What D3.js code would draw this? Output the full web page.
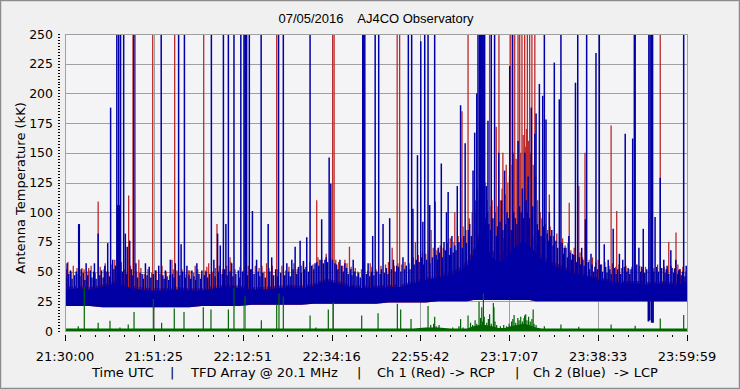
<!DOCTYPE html>
<html><head><meta charset="utf-8">
<script src="https://cdn.jsdelivr.net/npm/d3@7"></script>
<style>
html,body{margin:0;padding:0;background:#f0f0f0;}
svg{display:block;}
text{font-family:"DejaVu Sans",Verdana,sans-serif;fill:#000;}
</style></head><body><svg id="c" width="740" height="389"></svg>
<script>
// ---------- DATA (time in minutes after 21:30:00 UTC, values in kK) ----------
const titleText = "07/05/2016    AJ4CO Observatory";
const yTitle = "Antenna Temperature (kK)";
const captionParts = ["Time UTC", "|", "TFD Array @ 20.1 MHz", "|", "Ch 1 (Red) -> RCP", "|", "Ch 2 (Blue)  -> LCP"];
const xTickLabels = ["21:30:00","21:51:25","22:12:51","22:34:16","22:55:42","23:17:07","23:38:33","23:59:59"];
const yTickValues = [0,25,50,75,100,125,150,175,200,225,250];

const bandT    = [0,3,6,9,12,15,18,21,24,27,30,33,36,39,42,45,48,51,54,57,60,63,66,69,72,75,78,81,84,87,90,93,95,97,98.5,100,101.5,103,104.5,106,107.5,109,110.5,112,113.5,115,117,120,123,126,129,132,135,138,141,144,147,150];
const blueLow  = [21,21,21,20,20,20,20,20,20,20,20,21,21,21,21,22,22,22,22,22,23,23,23,23,23,23,24,24,24,24,25,25,25,25,26,26,26,26,26,26,26,26,26,26,25,25,25,25,25,25,25,25,25,25,25,25,25,25];
const blueTop  = [35,36,35,37,40,37,35,34,34,35,34,34,36,37,36,35,35,36,37,36,38,42,40,37,36,36,37,37,40,43,45,47,50,55,64,78,72,62,58,60,66,72,76,72,66,60,56,52,48,45,43,41,40,40,39,40,39,40];
const redTop   = [37,38,37,39,42,39,37,36,36,37,36,36,38,39,38,37,37,38,39,38,40,44,42,39,38,38,39,39,42,45,47,50,53,59,69,84,78,68,64,68,78,88,94,88,74,64,59,55,50,47,45,43,42,42,41,42,41,42];
const greenTop = [2,2,2,2,2,2,2,2,2,2,2,2,2,2,2,2,2,2,2,2,2,2,2,2,2,2,2,2,2,3,3,2,2,2,4,5,5,4,2.5,2.5,4,5,6,5,3,2,2,2,2,2,2,2,2,2,2,2,2,2];

const blueSpikes = [[0.5,57],[1.3,51],[2.3,47],[3.3,90],[3.45,90],[3.9,52],[5.1,57],[6.1,51],[7.1,57],[8.0,82],[8.8,51],[9.6,55],[10.3,74],[11.0,188],[11.5,60],[12.5,260],[12.7,106],[12.95,260],[13.2,106],[13.4,260],[14.15,260],[14.55,82],[15.0,71],[15.6,76],[16.6,260],[17.1,57],[18.6,48],[19.4,57],[20.3,54],[21.8,51],[22.6,55],[23.2,260],[24.2,51],[25.4,60],[26.6,57],[27.4,260],[28.0,73],[28.8,260],[29.4,55],[30.6,51],[31.8,57],[33.0,51],[35.3,260],[35.9,60],[36.8,82],[37.45,72],
[38.2,260],[38.8,90],[39.4,260],[40.2,57],[40.75,260],[41.8,51],[42.4,260],[43.2,260],[43.5,260],[43.8,260],[44.45,260],[45.2,101],[46.2,60],[47.3,260],[49.0,90],[49.85,62],[51.5,260],[52.65,260],[53.5,57],[54.7,60],[55.5,71],[56.7,76],[57.5,59],[58.3,79],[59.1,260],[60.3,57],[61.9,94],[62.7,60],[63.7,146],[64.1,124],[65.1,57],[66.3,60],[67.5,57],[69.5,60],[71.8,260],[72.0,260],[72.3,260],[73.1,57],[74.2,80],[74.8,260],[75.65,260],
[76.7,90],[78.3,95],[79.2,60],[80.0,55],[81.5,62],[82.8,260],[83.6,260],[83.9,103],[85.0,148],[85.8,244],[86.3,92],[86.75,260],[87.55,260],[87.95,106],[89.15,260],[90.0,70],[90.75,141],[91.4,75],[92.0,100],[92.4,117],[93.3,80],[94.6,122],[95.4,190],[96.5,158],[97.6,90],[98.4,135],[98.8,167],[99.3,200],[99.6,260],[100.0,260],[100.2,260],[100.4,260],[100.6,260],[100.8,260],[101.0,260],[101.2,260],[101.6,122],[102.0,177],[102.8,260],[103.6,260],[104.6,150],[105.3,110],[106.0,135],[106.6,100],[107.25,223],[107.95,260],[109.25,160],[110.3,120],[110.9,150],[111.7,130],[112.45,188],[113.3,166],
[113.6,183],[114.4,208],[115.2,198],[115.6,260],[116.0,178],[116.8,100],[117.4,85],[118.0,226],[119.2,195],[119.6,260],[120.4,70],[121.5,80],[122.4,65],[123.1,209],[123.65,260],[124.6,70],[125.5,94],[125.8,260],[126.85,65],[128.05,234],[128.85,260],[130.05,73],[131.0,60],[132.2,86],[133.7,65],[134.5,60],[135.1,166],[136.9,162],[137.3,260],[137.5,260],[138.4,70],[139.45,86],[140.8,260],[141.1,260],[141.4,260],[141.7,260],[142.3,96],[143.55,129],[144.4,60],[145.2,55],[146.1,68],[147.3,60],[148.2,52],[149.2,260],[149.8,55]];

const blueShort = [[0.2,45],[0.9,48],[1.7,44],[2.7,50],[3.6,46],[4.4,49],[4.8,43],[5.5,47],[6.5,45],[6.9,50],[7.5,44],[8.4,47],[9.2,45],[9.9,50],[10.7,46],[11.8,52],[12.2,55],[13.8,50],[14.9,48],[16.0,52],[16.2,47],[17.5,45],[18.1,49],[18.9,44],[19.8,47],[20.7,45],[21.3,48],[22.2,43],[23.6,47],[23.9,44],[24.6,46],[25.0,43],[25.9,48],[26.3,45],[27.7,47],[28.4,50],[29.0,45],[29.9,47],[30.3,44],[31.1,46],[31.5,43],[32.3,48],[32.7,44],[33.6,47],[34.0,50],[34.4,45],[34.9,48],[36.2,46],[37.0,50],[37.9,48],[38.5,52],[39.1,47],[39.8,50],[40.5,46],[41.2,48],[42.0,45],[42.8,50],[44.0,47],[44.8,52],[45.6,48],[46.6,50],[47.0,46],[47.7,49],[48.3,45],[49.4,50],[50.3,47],[50.8,52],[51.2,46],[52.0,49],[53.0,47],[53.9,50],[54.3,46],[55.0,52],[55.9,48],[56.3,54],[57.0,49],[57.8,52],[58.7,50],[59.5,55],[60.0,52],[60.7,58],[61.2,55],[61.5,60],[62.3,57],[63.0,62],[63.3,58],[64.5,60],[65.5,56],[65.8,52],[66.7,55],[67.1,50],[67.9,53],[68.3,48],[68.9,52],[69.2,47],[69.9,50],[70.4,46],[70.8,49],[71.2,45],[72.7,48],[73.5,46],[73.9,50],[74.5,47],[75.2,50],[76.0,48],[76.3,52],[77.0,49],[77.5,53],[77.9,48],[78.7,52],[79.6,50],[80.4,54],[81.0,50],[81.9,52],[82.3,55],[83.2,52],[84.2,56],[84.7,60],[85.4,58],[86.0,62],[86.5,56],[87.2,60],[88.0,57],[88.6,62],[89.5,64],[89.8,60],[90.3,66],[91.0,62],[91.7,68],[92.7,64],[93.0,70],[93.6,66],[94.0,72],[94.3,68],[95.0,75],[95.8,70],[96.2,80],[96.8,74],[97.3,85],[98.0,80],[99.2,100],[99.9,110],[101.4,95],[101.9,100],[102.2,90],[102.6,85],[103.2,95],[104.0,80],[104.3,88],[104.9,92],[105.6,85],[105.9,78],[106.3,90],[106.9,95],[107.6,85],[108.2,100],[108.6,95],[109.0,90],[109.6,105],[110.0,100],[110.6,95],[111.2,110],[111.5,100],[112.0,95],[112.8,105],[113.9,90],[114.2,85],[114.8,80],[115.4,88],[116.3,82],[116.6,76],[117.1,80],[117.7,72],[118.4,76],[118.8,70],[119.9,74],[120.2,65],[120.8,70],[121.2,62],[121.8,66],[122.1,60],[122.7,64],[123.4,58],[124.0,62],[124.3,56],[124.9,60],[125.2,55],[126.2,58],[126.5,52],[127.1,56],[127.5,50],[127.8,54],[128.4,52],[129.2,56],[129.6,50],[130.4,54],[130.7,49],[131.4,52],[131.7,48],[132.5,53],[132.9,48],[133.3,52],[134.0,48],[134.9,54],[135.5,50],[135.8,53],[136.2,48],[136.5,52],[137.9,56],[138.8,50],[139.1,54],[139.8,49],[140.3,52],[142.0,50],[142.7,54],[143.1,50],[143.9,53],[144.7,49],[145.0,52],[145.6,48],[146.4,53],[146.8,49],[147.0,52],[147.7,48],[148.0,51],[148.6,47],[148.9,50],[149.5,46]];

const redSpikes = [[0.7,58],[2.9,53],[4.1,53],[5.7,53],[8.0,109],[9.7,57],[15.35,114],[16.4,260],[16.9,260],[17.8,60],[21.15,260],[23.4,55],[25.8,60],[26.45,260],[27.0,51],[29.8,51],[31.4,55],[33.45,260],[34.65,57],[36.65,90],
[39.8,62],[48.6,57],[51.05,260],[57.5,57],[60.7,110],[64.55,260],[64.9,260],[67.5,60],[68.6,71],[73.6,57],
[78.9,70],[80.1,260],[80.7,260],[84.5,75],[88.3,85],[89.3,109],[93.15,64],[94.0,100],[95.75,185],[97.2,260],[101.3,125],[102.4,260],[104.0,172],[104.65,260],[105.6,150],[106.4,140],[107.5,260],[108.45,260],[109.25,260],[109.65,260],[110.2,260],[110.85,260],[111.5,260],[112.05,260],[112.6,260],[113.3,260],
[116.8,115],[121.6,108],[123.9,122],[125.4,150],[131.7,173],[133.05,101],[143.55,260],[145.6,75],[147.35,83]];

const redShort = [[0.4,52],[1.5,50],[2.0,55],[3.0,48],[4.6,52],[5.3,50],[6.3,55],[7.3,49],[8.5,54],[9.4,52],[10.5,50],[11.3,56],[12.0,60],[13.6,58],[14.4,52],[15.8,55],[17.3,50],[18.3,53],[19.1,48],[20.0,52],[20.9,49],[22.0,51],[22.9,48],[24.4,50],[25.2,47],[26.1,52],[27.3,49],[28.2,52],[29.2,48],[30.1,51],[31.0,49],[32.0,52],[32.9,48],[33.8,51],[34.2,54],[35.6,50],[36.3,53],[37.2,55],[38.0,52],[39.0,55],[40.0,58],[41.0,52],[42.2,54],[43.0,51],[44.2,55],[45.0,52],[45.9,55],[46.8,53],[47.5,55],[48.0,50],[49.2,53],[50.0,55],[51.3,52],[52.3,55],[53.2,51],[54.0,54],[55.2,57],[56.0,52],[57.0,55],[58.0,54],[59.0,58],[59.8,56],[61.0,62],[62.0,60],[63.0,65],[64.0,62],[65.3,60],[66.0,58],[67.0,55],[68.0,57],[69.0,54],[70.0,53],[70.6,50],[71.5,52],[73.0,51],[74.0,54],[75.0,52],[76.2,55],[77.3,56],[78.0,58],[79.4,55],[80.3,57],[81.2,56],[82.0,58],[83.0,57],[84.0,62],[85.2,64],[86.2,66],[87.0,65],[87.8,68],[88.8,70],[89.7,68],[90.5,72],[91.2,70],[92.2,74],[92.9,78],[93.8,75],[94.8,80],[95.5,78],[96.0,88],[96.7,85],[97.5,95],[98.2,100],[99.0,110],[99.4,120],[100.2,125],[101.0,115],[101.8,110],[102.5,105],[103.0,110],[103.8,100],[104.4,105],[105.0,110],[105.4,120],[106.2,115],[106.8,125],[107.2,130],[107.8,140],[108.2,150],[108.8,145],[109.4,160],[109.9,150],[110.5,165],[111.0,155],[111.3,170],[111.8,160],[112.3,150],[112.9,140],[113.5,130],[114.0,110],[114.6,100],[115.0,95],[115.8,90],[116.4,85],[117.0,88],[117.8,80],[118.6,82],[119.4,75],[120.0,78],[120.6,72],[121.3,74],[122.0,68],[122.8,70],[123.6,64],[124.2,66],[124.8,62],[125.6,64],[126.4,60],[127.2,62],[128.0,58],[128.6,60],[129.4,56],[130.2,58],[131.2,55],[132.0,57],[132.8,54],[133.6,56],[134.2,53],[135.3,55],[136.0,52],[136.7,54],[137.7,52],[138.6,55],[139.3,52],[140.0,54],[142.0,53],[142.9,56],[143.8,52],[144.5,54],[145.3,52],[146.2,55],[147.0,53],[147.8,56],[148.4,52],[149.0,54],[149.7,50]];

const blueDips = [[140.7,8],[141.0,9],[141.5,7],[141.8,7]];

const greenSpikes = [[3.2,4],[4.65,37],[8.0,7],[10.85,8.6],[13.25,3],[15.25,5.5],[16.65,16],[21.3,27],[23.3,7],[26.35,19],[28.7,16],[33.35,20],[35.2,18],[39.4,18],[40.75,36],[43.4,29],[47.35,9],[51.05,22],[51.6,31.6],[52.65,29],[59.1,13],[60.5,3],[63.5,18],[64.7,24.6],[71.55,13],[75.5,15],[80.15,23],[80.95,18],[83.45,10],[87.55,21],[88.2,5],[88.9,6],[89.15,12],[89.5,4],[90.2,5],[93.5,3],[95.0,4],[95.4,10],[96.0,3],[97.2,13],[97.8,7],[98.3,5],[98.9,9],[99.3,6],[99.85,24.6],[100.2,11],[100.5,20],[100.7,8],[100.9,31.6],[101.1,12],[101.7,7],[102.1,10],[102.4,14],[102.8,6],[103.3,23.5],[103.45,20],[103.7,8],[104.1,5],[105.0,4],[105.8,5],[106.5,4],[107.1,6],[107.7,8],[108.0,10],[108.3,13.4],[108.7,7],[109.2,11],[109.5,9],[109.9,12],[110.3,8],[110.7,11],[110.85,13],[111.1,14],[111.4,9],[111.8,12],[112.2,8],[112.6,10],[112.9,18],[113.1,6],[113.6,5],[115.6,4],[119.6,5.5],[123.9,3.5],[131.7,5.5],[137.5,4.5],[143.55,10.6],[149.2,13.4]];

// ---------- LAYOUT ----------
const W = 740, H = 389;
const L = 65, R = 687, T = 34, B = 331;
const colBlue = "#00009a", colBlueLine = "#0000a6", colRed = "#bb2a2a", colGreen = "#006400", colGrid = "#a0a0a0";

const svg = d3.select("#c");
svg.append("rect").attr("x",0.5).attr("y",0.5).attr("width",W-1).attr("height",H-1)
  .attr("fill","#f0f0f0").attr("stroke","#8c8c8c").attr("stroke-width",1);
svg.append("rect").attr("x",1.5).attr("y",1.5).attr("width",W-3).attr("height",H-3)
  .attr("fill","none").attr("stroke","#d8d8d8").attr("stroke-width",1);

const x = d3.scaleLinear().domain([0,150]).range([L,R]);
const y = d3.scaleLinear().domain([0,250]).range([B,T]);
const baseAt = d3.scaleLinear().domain(bandT).range(blueLow).clamp(true);

svg.append("rect").attr("x",L).attr("y",T).attr("width",R-L+1).attr("height",B-T)
  .attr("fill","#f4f4f7");

svg.append("clipPath").attr("id","clip").append("rect")
  .attr("x",L).attr("y",T).attr("width",R-L+1).attr("height",B-T);

const px = v => Math.round(v) + 0.5;

// grid
const g = svg.append("g").attr("shape-rendering","crispEdges");
yTickValues.filter(v=>v>0 && v<250).forEach(v=>{
  g.append("line").attr("x1",L).attr("x2",R+1).attr("y1",px(y(v))).attr("y2",px(y(v)))
   .attr("stroke",colGrid);
});
const majorT = d3.range(8).map(i=>i*150/7);
majorT.slice(1,7).forEach(t=>{
  g.append("line").attr("x1",px(x(t))).attr("x2",px(x(t))).attr("y1",T).attr("y2",B)
   .attr("stroke",colGrid);
});

const plot = svg.append("g").attr("clip-path","url(#clip)");

function bandData(hiArr){ return bandT.map((t,i)=>({t, lo: blueLow[i], hi: hiArr[i]})); }
const area = d3.area().x(d=>x(d.t)).y0(d=>y(d.lo)).y1(d=>y(d.hi));

function spikes(parent, data, color, w){
  parent.append("g").selectAll("line").data(data).join("line")
    .attr("x1",d=>x(d[0])).attr("x2",d=>x(d[0]))
    .attr("y1",d=>y(baseAt(d[0])+3)).attr("y2",d=>y(Math.min(d[1],262)))
    .attr("stroke",color).attr("stroke-width",w);
}

// red channel (behind)
plot.append("path").datum(bandData(redTop)).attr("d",area).attr("fill",colRed);
spikes(plot, redShort, colRed, 1.3);
spikes(plot, redSpikes, colRed, 1.3);

// blue channel
plot.append("path").datum(bandData(blueTop)).attr("d",area).attr("fill",colBlue);
spikes(plot, blueShort, colBlueLine, 1.5);
spikes(plot, blueSpikes, colBlueLine, 1.5);
plot.append("g").selectAll("line").data(blueDips).join("line")
  .attr("x1",d=>x(d[0])).attr("x2",d=>x(d[0]))
  .attr("y1",d=>y(baseAt(d[0])+2)).attr("y2",d=>y(d[1]))
  .attr("stroke",colBlue).attr("stroke-width",1.8);

// green
const gArea = d3.area().x(d=>x(d.t)).y0(y(0)).y1(d=>y(d.hi));
plot.append("path").datum(bandT.map((t,i)=>({t,hi:greenTop[i]}))).attr("d",gArea).attr("fill",colGreen);
plot.append("g").selectAll("line").data(greenSpikes).join("line")
  .attr("x1",d=>x(d[0])).attr("x2",d=>x(d[0]))
  .attr("y1",y(0)).attr("y2",d=>y(d[1]))
  .attr("stroke",colGreen).attr("stroke-width",1.2);

// plot border
svg.append("rect").attr("x",L+0.5).attr("y",T+0.5).attr("width",R-L).attr("height",B-T)
  .attr("fill","none").attr("stroke",colGrid).attr("shape-rendering","crispEdges");

// y axis ticks (dotted minor ticks every 2.5) and labels
const ya = svg.append("g").attr("shape-rendering","crispEdges");
d3.range(0,251,2.5).forEach(v=>{
  ya.append("rect").attr("x",58).attr("y",Math.round(y(v))).attr("width",2).attr("height",1).attr("fill","#000");
});
ya.selectAll("text").data(yTickValues).join("text")
  .attr("x",53).attr("y",d=>y(d)+4.5).attr("text-anchor","end")
  .attr("font-size",12.5).text(d=>d);

// x axis ticks
const xa = svg.append("g").attr("shape-rendering","crispEdges");
d3.range(0,43).forEach(i=>{
  const t = i*150/42, major = i%6===0;
  xa.append("line").attr("x1",px(x(t))).attr("x2",px(x(t)))
    .attr("y1",335).attr("y2",major?341:337).attr("stroke","#000");
});
xa.selectAll("text").data(xTickLabels).join("text")
  .attr("x",(d,i)=>x(majorT[i])).attr("y",361).attr("text-anchor","middle")
  .attr("font-size",13).text(d=>d);

// title
svg.append("text").attr("x",376).attr("y",23).attr("text-anchor","middle")
  .style("font-family","'Liberation Sans',Arial,sans-serif").attr("font-size",13)
  .style("white-space","pre").text(titleText);

// y title
svg.append("text").attr("transform","translate(25,188) rotate(-90)").attr("text-anchor","middle")
  .attr("font-size",13).text(yTitle);

// caption
const capX = [92, 170, 191, 357, 377, 515, 533];
captionParts.forEach((s,i)=>{
  svg.append("text").attr("x",capX[i]).attr("y",377).attr("font-size",13)
    .style("white-space","pre").text(s);
});
</script></body></html>
